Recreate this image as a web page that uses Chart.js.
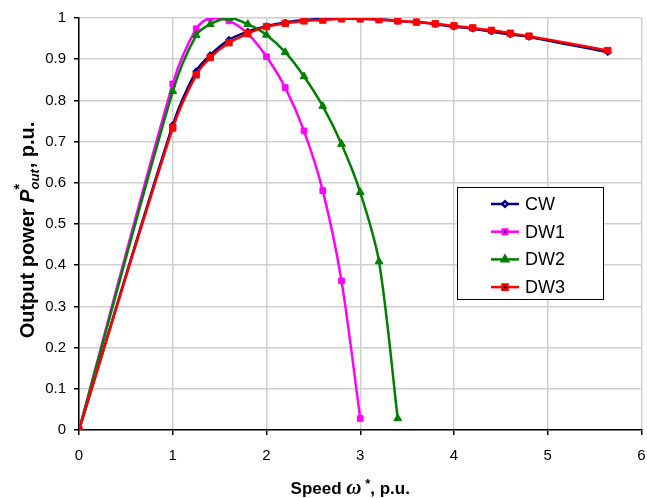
<!DOCTYPE html>
<html>
<head>
<meta charset="utf-8">
<script src="https://cdn.jsdelivr.net/npm/chart.js@4.4.1/dist/chart.umd.min.js"></script>
<style>
  html, body { margin: 0; padding: 0; background: #fff; }
  #wrap { width: 647px; height: 498px; position: relative; }
</style>
</head>
<body>
<div id="wrap"><canvas id="powerChart"></canvas></div>
<script>
// Data
const cwX  = [0, 1.0, 1.25, 1.4, 1.6, 1.8, 2.0, 2.2, 2.4, 2.6, 2.8, 3.0, 3.2, 3.4, 3.6, 3.8, 4.0, 4.2, 4.4, 4.6, 4.8, 5.64];
const cwY  = [0, 0.740, 0.871, 0.910, 0.947, 0.967, 0.980, 0.989, 0.995, 0.998, 1.000, 0.998, 0.997, 0.993, 0.990, 0.985, 0.979, 0.974, 0.967, 0.960, 0.954, 0.917];

const dw1X = [0, 1.0, 1.25, 1.4, 1.6, 1.8, 2.0, 2.2, 2.4, 2.6, 2.8, 3.0];
const dw1Y = [0, 0.840, 0.974, 1.000, 0.993, 0.962, 0.906, 0.831, 0.726, 0.581, 0.362, 0.028];

const dw2X = [0, 1.0, 1.25, 1.4, 1.6, 1.8, 2.0, 2.2, 2.4, 2.6, 2.8, 3.0, 3.2, 3.4];
const dw2Y = [0, 0.822, 0.958, 0.985, 1.000, 0.985, 0.959, 0.917, 0.858, 0.786, 0.694, 0.577, 0.409, 0.028];

const dw3X = [0, 1.0, 1.25, 1.4, 1.6, 1.8, 2.0, 2.2, 2.4, 2.6, 2.8, 3.0, 3.2, 3.4, 3.6, 3.8, 4.0, 4.2, 4.4, 4.6, 4.8, 5.64];
const dw3Y = [0, 0.733, 0.862, 0.904, 0.940, 0.962, 0.979, 0.987, 0.993, 0.995, 0.998, 0.998, 0.996, 0.993, 0.990, 0.986, 0.981, 0.976, 0.970, 0.963, 0.956, 0.921];

const xTicks = [0, 1, 2, 3, 4, 5, 6];
const yTicks = [0, 0.1, 0.2, 0.3, 0.4, 0.5, 0.6, 0.7, 0.8, 0.9, 1];

function toPoints(xs, ys) {
    return xs.map((x, i) => ({ x: x, y: ys[i] }));
}

const FONT = '"Liberation Sans", Arial, sans-serif';

// Titres d'axes avec exposant / indice
function drawRichText(ctx, parts, x, y) {
    let total = 0;
    parts.forEach(p => {
        ctx.font = p.font;
        p.w = p.stack ? 0 : ctx.measureText(p.text).width;
        if (p.stackW) p.w = p.stackW;
        total += p.w;
    });
    let cx = x - total / 2;
    parts.forEach(p => {
        ctx.font = p.font;
        ctx.fillText(p.text, cx, y + (p.dy || 0));
        cx += p.w;
    });
}

const axisTitles = {
    id: 'axisTitles',
    afterDraw(chart) {
        const ctx = chart.ctx;
        const area = chart.chartArea;
        ctx.save();
        ctx.fillStyle = '#000';
        ctx.textBaseline = 'alphabetic';
        ctx.textAlign = 'left';

        // X title
        drawRichText(ctx, [
            { text: 'Speed ', font: 'bold 17px ' + FONT },
            { text: 'ω', font: 'bold italic 21px "Liberation Serif", serif' },
            { text: ' *', font: 'bold 13px ' + FONT, dy: -6 },
            { text: ', p.u.', font: 'bold 17px ' + FONT }
        ], (area.left + area.right) / 2 - 10, 494);

        // Y title
        ctx.translate(34, 230);
        ctx.rotate(-Math.PI / 2);
        ctx.font = 'bold italic 13px ' + FONT;
        const outW = ctx.measureText('out').width + 1;
        drawRichText(ctx, [
            { text: 'Output power ', font: 'bold 20px ' + FONT },
            { text: 'P', font: 'bold italic 20px ' + FONT },
            { text: '*', font: 'bold 14px ' + FONT, dy: -10, stack: true },
            { text: 'out', font: 'bold italic 13px ' + FONT, dy: 5, stackW: outW },
            { text: ', p.u.', font: 'bold 20px ' + FONT }
        ], 0, 0);
        ctx.restore();
    }
};

// Légende dessinée à l'intérieur de la zone du graphique
const boxLegend = {
    id: 'boxLegend',
    afterDraw(chart) {
        const ctx = chart.ctx;
        const x0 = 457, y0 = 187, w = 146, h = 112;
        ctx.save();
        ctx.fillStyle = '#fff';
        ctx.fillRect(x0, y0, w, h);
        ctx.strokeStyle = '#000';
        ctx.lineWidth = 1;
        ctx.strokeRect(x0 + 0.5, y0 + 0.5, w, h);
        chart.data.datasets.forEach((ds, i) => {
            const yy = 204 + i * 27.7;
            ctx.strokeStyle = ds.borderColor;
            ctx.lineWidth = 2.5;
            ctx.beginPath();
            ctx.moveTo(491, yy);
            ctx.lineTo(519, yy);
            ctx.stroke();
            Chart.helpers.drawPoint(ctx, {
                pointStyle: ds.pointStyle,
                radius: ds.pointRadius * 0.8,
                borderWidth: 1
            }, 505, yy);
            ctx.fillStyle = '#000';
            ctx.font = '18px ' + FONT;
            ctx.textBaseline = 'middle';
            ctx.fillText(ds.label, 525, yy + 1);
        });
        ctx.restore();
    }
};

function makeDataset(label, xs, ys, color, style, radius, order) {
    return {
        label: label,
        data: toPoints(xs, ys),
        borderColor: color,
        backgroundColor: color,
        pointBackgroundColor: color,
        pointBorderColor: color,
        pointStyle: style,
        pointRadius: radius,
        pointBorderWidth: 1,
        borderWidth: 2.5,
        tension: 0.3,
        order: order
    };
}

const ctx = document.getElementById('powerChart').getContext('2d');

new Chart(ctx, {
    type: 'line',
    data: {
        datasets: [
            makeDataset('CW', cwX, cwY, '#000080', 'rectRot', 3.5, 4),
            makeDataset('DW1', dw1X, dw1Y, '#ff00ff', 'rect', 4, 3),
            makeDataset('DW2', dw2X, dw2Y, '#008000', 'triangle', 4.5, 2),
            makeDataset('DW3', dw3X, dw3Y, '#ff0000', 'rect', 4.5, 1)
        ]
    },
    options: {
        responsive: true,
        maintainAspectRatio: false,
        animation: false,
        layout: {
            padding: { top: 18, right: 5, left: 0, bottom: 0 }
        },
        plugins: {
            legend: { display: false },
            tooltip: { enabled: false }
        },
        scales: {
            x: {
                type: 'linear',
                min: 0,
                max: 6,
                afterBuildTicks: function(axis) {
                    axis.ticks = xTicks.map(v => ({ value: v }));
                },
                afterFit: function(axis) {
                    axis.height = 68;
                    axis.paddingLeft = 0;
                    axis.paddingRight = 0;
                },
                grid: {
                    color: '#cfcfcf',
                    lineWidth: 1.5,
                    tickColor: '#000',
                    tickLength: 5
                },
                border: { color: '#000', width: 1.5 },
                ticks: {
                    color: '#000',
                    padding: 12,
                    font: { family: FONT, size: 15 }
                }
            },
            y: {
                min: 0,
                max: 1,
                afterBuildTicks: function(axis) {
                    axis.ticks = yTicks.map(v => ({ value: v }));
                },
                afterFit: function(axis) {
                    axis.width = 79;
                    axis.paddingTop = 0;
                    axis.paddingBottom = 0;
                },
                grid: {
                    color: '#cfcfcf',
                    lineWidth: 1.5,
                    tickColor: '#000',
                    tickLength: 5
                },
                border: { color: '#000', width: 1.5 },
                ticks: {
                    color: '#000',
                    padding: 8,
                    font: { family: FONT, size: 15 },
                    callback: function(value) {
                        return String(Math.round(value * 10) / 10);
                    }
                }
            }
        }
    },
    plugins: [axisTitles, boxLegend]
});
</script>
</body>
</html>
